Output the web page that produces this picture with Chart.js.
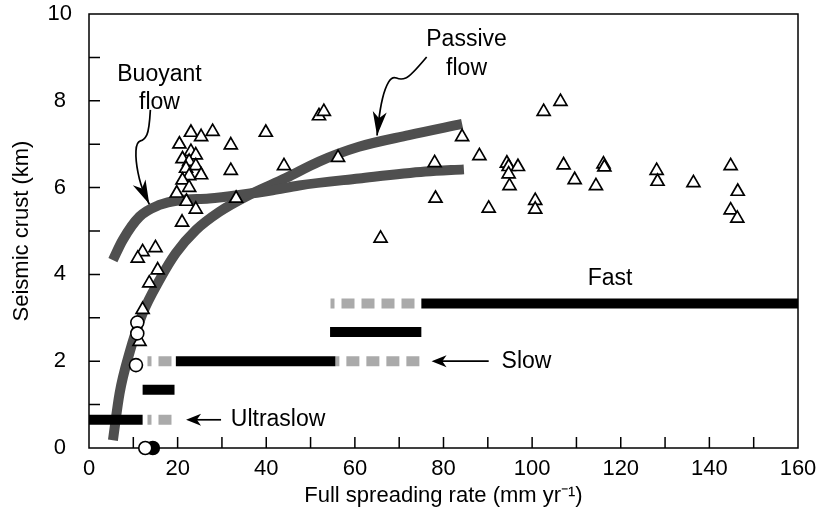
<!DOCTYPE html>
<html>
<head>
<meta charset="utf-8">
<script src="https://cdn.jsdelivr.net/npm/chart.js@4.4.1/dist/chart.umd.min.js"></script>
<style>
    html, body { margin: 0; padding: 0; background: #fff; }
</style>
</head>
<body>
<canvas id="crustChart" width="821" height="514"></canvas>
<script>
// Seismic crust thickness vs full spreading rate

// triangles (individual crustal measurements)
const triX = [23.0, 25.3, 27.9, 39.9, 20.4, 23.0, 24.1, 32.0, 21.1, 22.6, 24.1, 21.9, 25.3, 22.6, 21.1,
    32.0, 22.6, 19.8, 33.2, 22.0, 24.1, 21.0, 15.0, 12.1, 11.0, 15.5, 13.6, 12.1, 11.4,
    51.9, 53.0, 44.0, 56.2, 78.0, 84.2, 88.1, 78.2, 90.2, 65.8,
    94.3, 94.7, 96.8, 94.7, 94.9, 106.4, 102.6, 107.1, 109.6, 100.7, 100.7,
    116.1, 116.3, 114.4, 128.1, 128.3, 136.4, 144.8, 146.4, 144.8, 146.3];
const triY = [7.27, 7.17, 7.29, 7.27, 7.0, 6.83, 6.75, 6.98, 6.66, 6.6, 6.5, 6.44, 6.29, 6.27, 6.17,
    6.39, 6.0, 5.87, 5.75, 5.68, 5.5, 5.2, 4.61, 4.52, 4.37, 4.1, 3.8, 3.19, 2.45,
    7.65, 7.75, 6.5, 6.69, 6.57, 7.17, 6.73, 5.75, 5.52, 4.83,
    6.56, 6.48, 6.48, 6.31, 6.04, 7.98, 7.75, 6.52, 6.18, 5.7, 5.5,
    6.54, 6.47, 6.04, 6.39, 6.14, 6.11, 6.5, 5.91, 5.48, 5.29];

// open and filled circles
const openCircX = [10.9, 10.9, 10.6, 12.7];
const openCircY = [2.89, 2.64, 1.91, 0];
const fillCircX = [14.4];
const fillCircY = [0];

// model curves
const buoyantX = [5.4, 7.6, 11.4, 15.9, 20.4, 27.1, 33.9, 41.4, 47.4, 60.9, 75.9, 84.6];
const buoyantY = [4.33, 4.79, 5.33, 5.6, 5.71, 5.75, 5.83, 5.94, 6.05, 6.21, 6.37, 6.42];
const passiveX = [5.4, 6.9, 9.1, 12.1, 15.9, 19.6, 24.1, 29.4, 36.1, 44.4, 51.9, 60.9, 72.2, 84.2];
const passiveY = [0.18, 1.26, 2.18, 3.1, 3.87, 4.49, 5.02, 5.44, 5.83, 6.22, 6.6, 6.94, 7.21, 7.47];

// spreading rate ranges: [xStart, xEnd, y]
const solidRanges = [
    [0, 12.1, 0.65],
    [12.1, 19.3, 1.34],
    [19.6, 55.6, 2.0],
    [54.4, 75.0, 2.67],
    [75.0, 160, 3.33]
];
const dashedRanges = [
    [13.2, 18.9, 0.65],
    [13.2, 18.9, 2.0],
    [55.6, 74.6, 2.0],
    [54.5, 75.0, 3.33]
];

const xTickStep = 20, xMinorStep = 10;
const yTickStep = 2, yMinorStep = 1;

const FONT = "'Liberation Sans', Arial, Helvetica, sans-serif";

function pts(xs, ys) {
    return xs.map((x, i) => ({ x: x, y: ys[i] }));
}

// annotations in data units
const labels = [
    { text: 'Buoyant', x: 15.9, y: 8.6, align: 'center' },
    { text: 'flow', x: 15.9, y: 7.96, align: 'center' },
    { text: 'Passive', x: 85.2, y: 9.4, align: 'center' },
    { text: 'flow', x: 85.2, y: 8.73, align: 'center' },
    { text: 'Fast', x: 117.6, y: 3.9, align: 'center' },
    { text: 'Slow', x: 93.1, y: 2.0, align: 'left' },
    { text: 'Ultraslow', x: 32.0, y: 0.65, align: 'left' }
];
const buoyantArrow = [[13.85, 7.79], [13.6, 7.33], [12.5, 7.1], [10.7, 7.05], [10.5, 6.64], [11.6, 6.06], [13.6, 5.62]];
const passiveArrow = [[76.2, 9.01], [72.6, 8.57], [70.4, 8.48], [68.4, 8.57], [66.8, 8.29], [65.7, 7.83], [65.0, 7.2]];
const straightArrows = [
    [[90.2, 2.0], [77.3, 2.0]],
    [[29.8, 0.65], [21.9, 0.65]]
];

function arrowHead(ctx, tx, ty, angle, len, half) {
    ctx.save();
    ctx.translate(tx, ty);
    ctx.rotate(angle);
    ctx.beginPath();
    ctx.moveTo(0, 0);
    ctx.lineTo(-len, -half);
    ctx.lineTo(-len * 0.72, 0);
    ctx.lineTo(-len, half);
    ctx.closePath();
    ctx.fill();
    ctx.restore();
}

const framePlugin = {
    id: 'framePlugin',
    beforeDatasetsDraw(chart) {
        const { ctx, chartArea: a, scales: { x, y } } = chart;
        ctx.save();
        ctx.strokeStyle = '#000';
        ctx.lineWidth = 1.5;
        ctx.strokeRect(a.left, a.top, a.right - a.left, a.bottom - a.top);
        ctx.beginPath();
        for (let v = 0; v <= x.max; v += xMinorStep) {
            const px = x.getPixelForValue(v);
            if (v === 0 || v === x.max) continue;
            ctx.moveTo(px, a.bottom);
            ctx.lineTo(px, a.bottom - 11);
        }
        for (let v = 0; v <= y.max; v += yMinorStep) {
            const py = y.getPixelForValue(v);
            if (v === 0 || v === y.max) continue;
            ctx.moveTo(a.left, py);
            ctx.lineTo(a.left + 11, py);
        }
        ctx.stroke();
        ctx.restore();
    },
    afterDatasetsDraw(chart) {
        const { ctx, scales: { x, y } } = chart;
        ctx.save();
        ctx.fillStyle = '#000';
        ctx.strokeStyle = '#000';
        ctx.font = '23px ' + FONT;
        ctx.textBaseline = 'middle';
        labels.forEach(l => {
            ctx.textAlign = l.align;
            ctx.fillText(l.text, x.getPixelForValue(l.x), y.getPixelForValue(l.y));
        });

        // curly arrows
        ctx.lineWidth = 1.7;
        [buoyantArrow, passiveArrow].forEach(path => {
            const p = path.map(d => [x.getPixelForValue(d[0]), y.getPixelForValue(d[1])]);
            ctx.beginPath();
            ctx.moveTo(p[0][0], p[0][1]);
            for (let i = 1; i < p.length - 1; i++) {
                const mx = (p[i][0] + p[i + 1][0]) / 2;
                const my = (p[i][1] + p[i + 1][1]) / 2;
                ctx.quadraticCurveTo(p[i][0], p[i][1], mx, my);
            }
            const last = p[p.length - 1], prev = p[p.length - 2];
            ctx.lineTo(last[0], last[1]);
            ctx.stroke();
            const ang = Math.atan2(last[1] - prev[1], last[0] - prev[0]);
            arrowHead(ctx, last[0], last[1], ang, 24, 7);
        });

        // straight arrows
        ctx.lineWidth = 1.7;
        straightArrows.forEach(a => {
            const x0 = x.getPixelForValue(a[0][0]), y0 = y.getPixelForValue(a[0][1]);
            const x1 = x.getPixelForValue(a[1][0]), y1 = y.getPixelForValue(a[1][1]);
            ctx.beginPath();
            ctx.moveTo(x0, y0);
            ctx.lineTo(x1 + 8, y1);
            ctx.stroke();
            arrowHead(ctx, x1, y1, Math.atan2(y1 - y0, x1 - x0), 15, 6);
        });
        ctx.restore();
    }
};

const datasets = [
    {
        data: pts(openCircX, openCircY),
        pointStyle: 'circle',
        pointRadius: 6.5,
        backgroundColor: '#fff',
        borderColor: '#000',
        borderWidth: 1.6,
        clip: false
    },
    {
        data: pts(fillCircX, fillCircY),
        pointStyle: 'circle',
        pointRadius: 6.5,
        backgroundColor: '#000',
        borderColor: '#000',
        borderWidth: 1.6,
        clip: false
    },
    {
        data: pts(triX, triY),
        pointStyle: 'triangle',
        pointRadius: 7.5,
        backgroundColor: '#fff',
        borderColor: '#000',
        borderWidth: 1.7,
        clip: false
    }
];

solidRanges.forEach(r => {
    datasets.push({
        data: [{ x: r[0], y: r[2] }, { x: r[1], y: r[2] }],
        showLine: true,
        borderColor: '#000',
        borderWidth: 10,
        borderCapStyle: 'butt',
        pointRadius: 0
    });
});
dashedRanges.forEach(r => {
    datasets.push({
        data: [{ x: r[0], y: r[2] }, { x: r[1], y: r[2] }],
        showLine: true,
        borderColor: '#aaaaaa',
        borderWidth: 10,
        borderCapStyle: 'butt',
        borderDash: [13, 7],
        borderDashOffset: 9,
        pointRadius: 0
    });
});
[[buoyantX, buoyantY], [passiveX, passiveY]].forEach(c => {
    datasets.push({
        data: pts(c[0], c[1]),
        showLine: true,
        borderColor: '#4f4f4f',
        borderWidth: 10,
        borderCapStyle: 'butt',
        cubicInterpolationMode: 'monotone',
        pointRadius: 0
    });
});

new Chart(document.getElementById('crustChart'), {
    type: 'scatter',
    data: { datasets: datasets },
    options: {
        responsive: false,
        animation: false,
        layout: { padding: { top: 14, right: 23, left: 0, bottom: 0 } },
        plugins: {
            legend: { display: false },
            tooltip: { enabled: false }
        },
        scales: {
            x: {
                min: 0,
                max: 160,
                grid: { display: false, drawTicks: false },
                border: { display: false },
                ticks: {
                    stepSize: xTickStep,
                    padding: 8,
                    color: '#000',
                    font: { family: FONT, size: 22 }
                },
                title: {
                    display: true,
                    text: 'Full spreading rate (mm yr\u207B\u00B9)',
                    color: '#000',
                    font: { family: FONT, size: 22 },
                    padding: { top: 0, bottom: 5 }
                },
                afterFit(scale) {
                    scale.height = 66;
                    scale.paddingLeft = 0;
                    scale.paddingRight = 0;
                }
            },
            y: {
                min: 0,
                max: 10,
                grid: { display: false, drawTicks: false },
                border: { display: false },
                ticks: {
                    stepSize: yTickStep,
                    padding: 17,
                    crossAlign: 'center',
                    color: '#000',
                    font: { family: FONT, size: 22 }
                },
                title: {
                    display: true,
                    text: 'Seismic crust (km)',
                    color: '#000',
                    font: { family: FONT, size: 22 },
                    padding: { top: 9, bottom: 0 }
                },
                afterFit(scale) {
                    scale.width = 89;
                    scale.paddingTop = 0;
                    scale.paddingBottom = 0;
                }
            }
        }
    },
    plugins: [framePlugin]
});
</script>
</body>
</html>
